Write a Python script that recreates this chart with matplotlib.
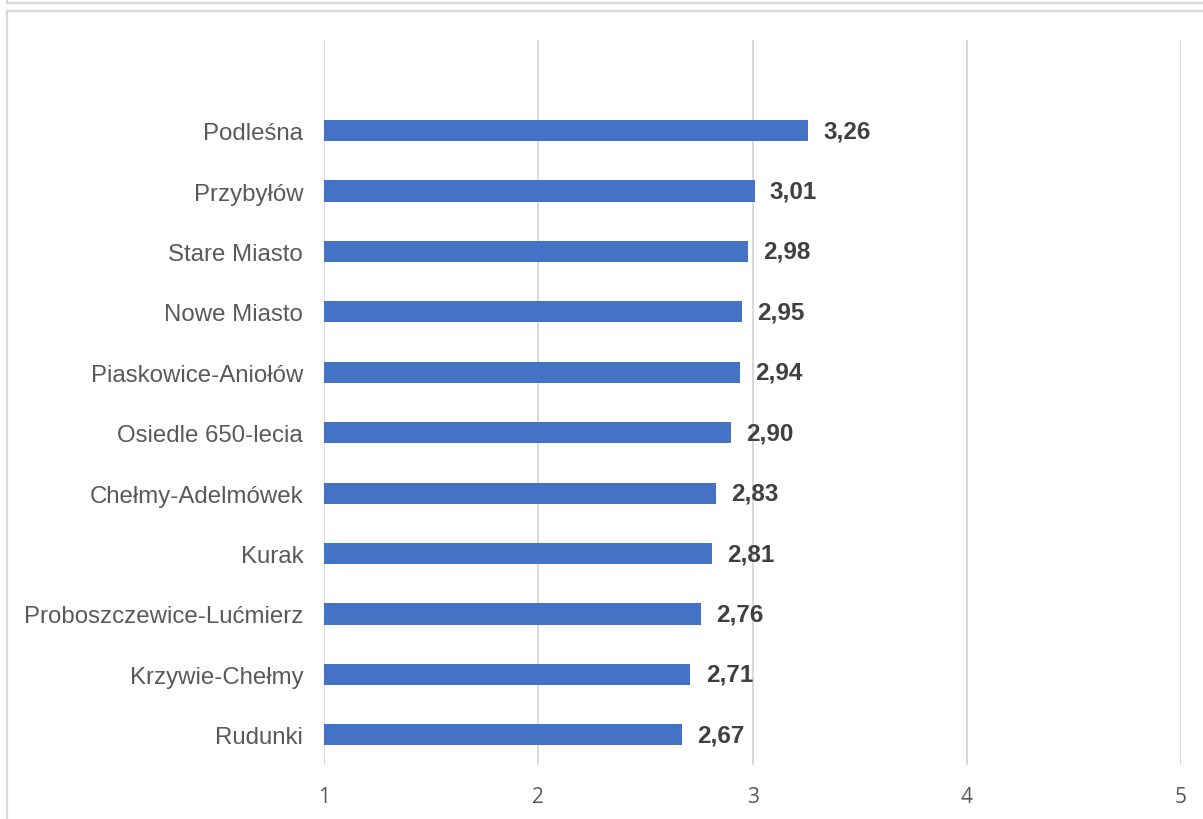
import matplotlib.pyplot as plt
from matplotlib.lines import Line2D

# Dane (od góry do dołu, jak na wykresie)
districts = ['Podleśna', 'Przybyłów', 'Stare Miasto', 'Nowe Miasto',
             'Piaskowice-Aniołów', 'Osiedle 650-lecia', 'Chełmy-Adelmówek',
             'Kurak', 'Proboszczewice-Lućmierz', 'Krzywie-Chełmy', 'Rudunki']
scores = [3.26, 3.01, 2.98, 2.95, 2.94, 2.90, 2.83, 2.81, 2.76, 2.71, 2.67]
x_ticks = [1, 2, 3, 4, 5]

W, H = 1203, 820
fig = plt.figure(figsize=(W / 100, H / 100), dpi=100)
ax = fig.add_axes([324 / W, 54 / H, (1181 - 324) / W, (766 - 41) / H])

# odwracamy kolejnosc, zeby Podlesna byla na gorze
labels = districts[::-1]
values = scores[::-1]
pos = list(range(len(labels)))

bars = ax.barh(pos, [v - 1 for v in values], left=1, height=0.35, color='#4472C4')
ax.set_xlim(1, 5)
ax.set_ylim(-0.5, len(labels) + 0.5)

ax.bar_label(bars, labels=[f'{v:.2f}'.replace('.', ',') for v in values],
             padding=11, fontsize=17.5, fontweight='bold', color='#404040',
             family='Liberation Sans')

ax.set_yticks(pos)
ax.set_yticklabels(labels, fontsize=17.3, color='#595959', family='Liberation Sans')
ax.set_xticks(x_ticks)
ax.set_xticklabels([str(t) for t in x_ticks], fontsize=15, color='#595959',
                   family='Open Sans')
ax.tick_params(axis='y', length=0, pad=15)
ax.tick_params(axis='x', length=0, pad=15)

ax.grid(True, axis='x', color='#D9D9D9', linewidth=1.4)
ax.set_axisbelow(True)
for s in ax.spines.values():
    s.set_visible(False)

# ramki jak w Excelu
c = '#D9D9D9'
fig.add_artist(Line2D([6.5 / W, 1], [1 - 4 / H, 1 - 4 / H], color=c, lw=1.6))
fig.add_artist(Line2D([6.5 / W, 6.5 / W], [1 - 4 / H, 1], color=c, lw=1.6))
fig.add_artist(Line2D([7 / W, 1], [1 - 11.5 / H, 1 - 11.5 / H], color=c, lw=1.6))
fig.add_artist(Line2D([7 / W, 7 / W], [0, 1 - 11.5 / H], color=c, lw=1.6))

fig.savefig('out.png', dpi=100)
